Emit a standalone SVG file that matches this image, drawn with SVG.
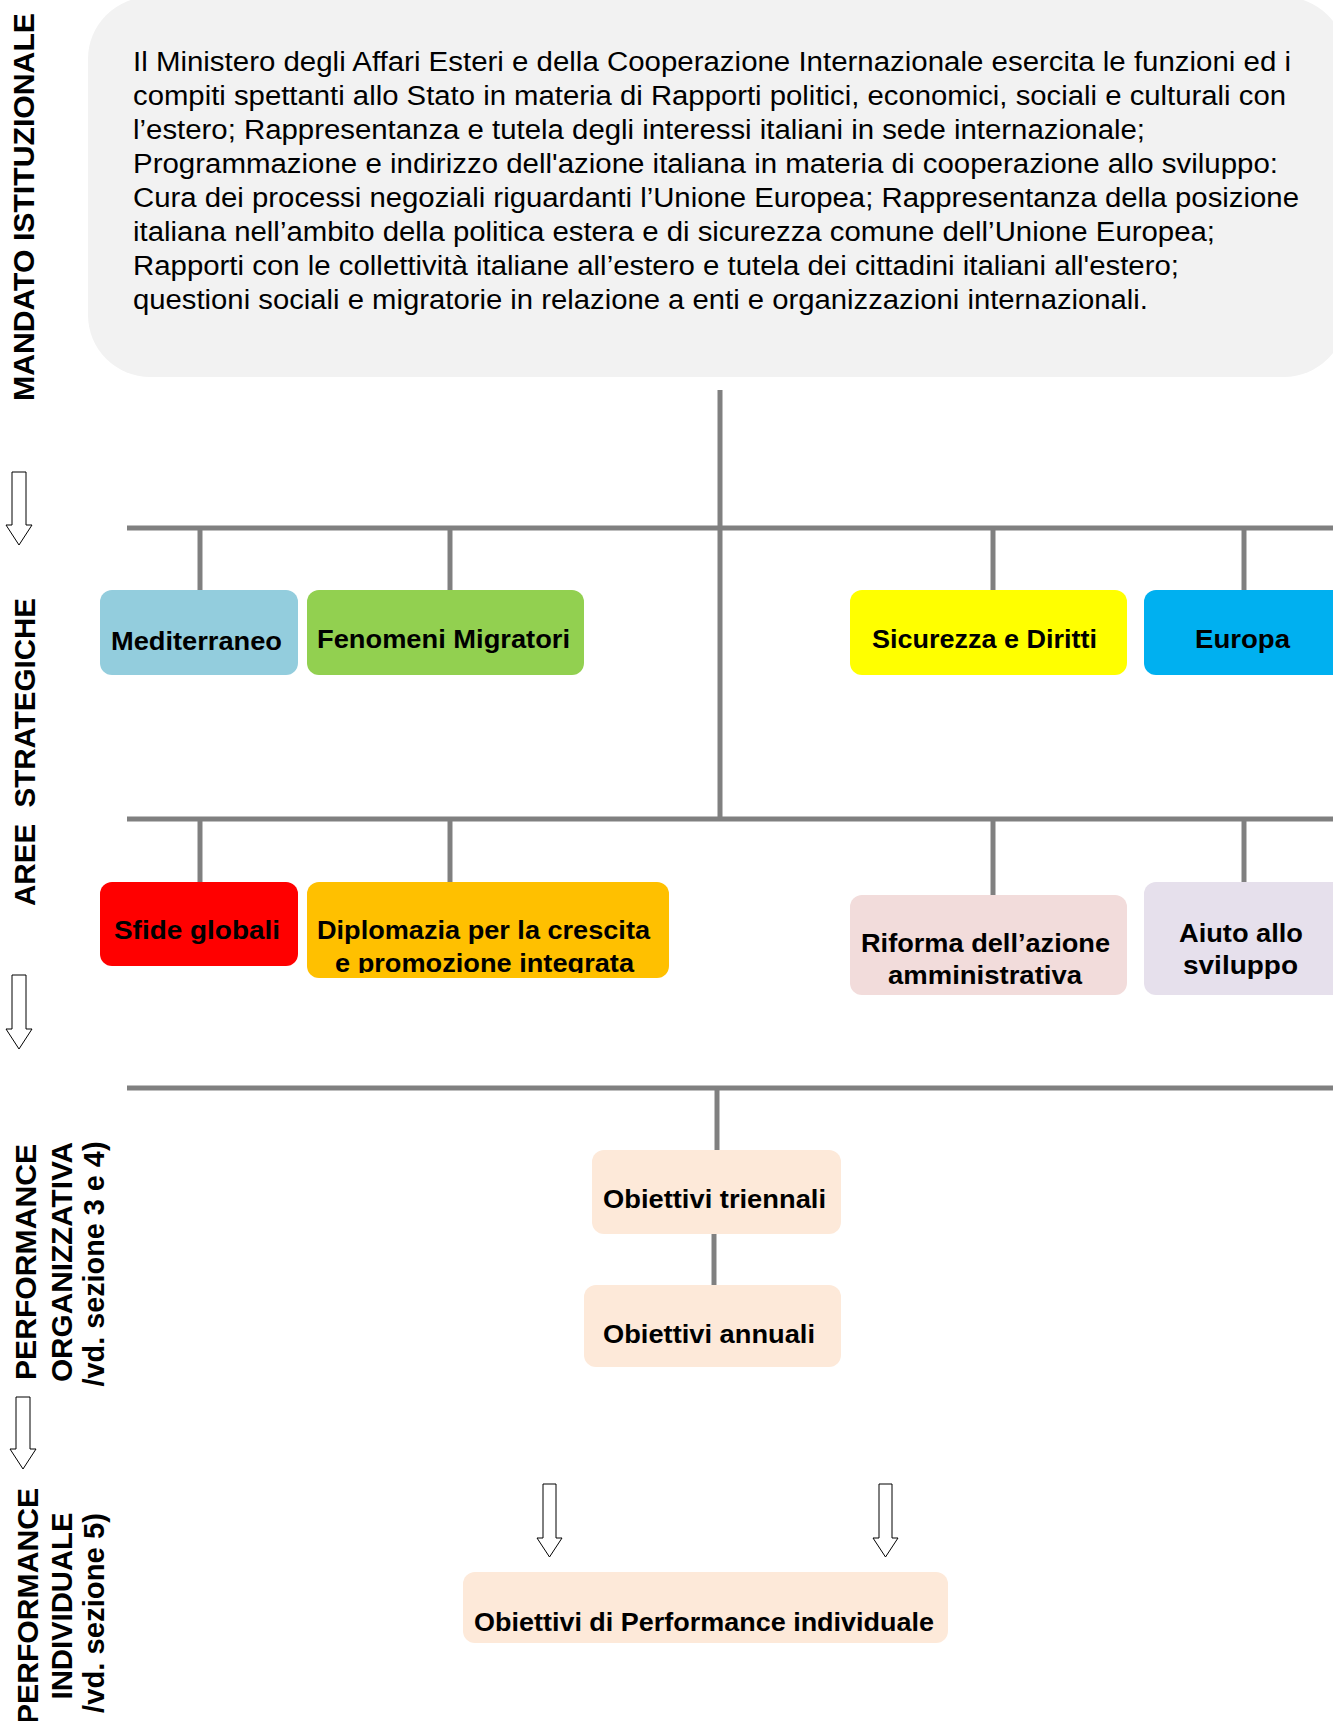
<svg xmlns="http://www.w3.org/2000/svg" width="1333" height="1721" viewBox="0 0 1333 1721">
<defs>
<style>
.bg{fill:#ffffff}
.mand{fill:#f2f2f2}
.body{font-family:"Liberation Sans",Arial,sans-serif;font-size:27px;fill:#000}
.lab{font-family:"Liberation Sans",Arial,sans-serif;font-size:29px;font-weight:bold;fill:#000;text-anchor:middle;white-space:pre}
.bt{font-family:"Liberation Sans",Arial,sans-serif;font-size:26px;font-weight:bold;fill:#000}
.ln{stroke:#808080;stroke-width:5;fill:none}
.arr{fill:#ffffff;stroke:#000;stroke-width:1}
</style>
<clipPath id="clipDip"><rect x="307" y="882" width="362" height="91"/></clipPath>
</defs>
<rect class="bg" x="0" y="0" width="1333" height="1721"/>

<g id="mandato">
<rect class="mand" x="88" y="-3" width="1258" height="380" rx="62" ry="62"/>
<text class="body" x="133" y="71" textLength="1158" lengthAdjust="spacingAndGlyphs">Il Ministero degli Affari Esteri e della Cooperazione Internazionale esercita le funzioni ed i</text>
<text class="body" x="133" y="105" textLength="1153" lengthAdjust="spacingAndGlyphs">compiti spettanti allo Stato in materia di Rapporti politici, economici, sociali e culturali con</text>
<text class="body" x="133" y="139" textLength="1012" lengthAdjust="spacingAndGlyphs">l’estero; Rappresentanza e tutela degli interessi italiani in sede internazionale;</text>
<text class="body" x="133" y="173" textLength="1145" lengthAdjust="spacingAndGlyphs">Programmazione e indirizzo dell'azione italiana in materia di cooperazione allo sviluppo:</text>
<text class="body" x="133" y="207" textLength="1166" lengthAdjust="spacingAndGlyphs">Cura dei processi negoziali riguardanti l’Unione Europea; Rappresentanza della posizione</text>
<text class="body" x="133" y="241" textLength="1082" lengthAdjust="spacingAndGlyphs">italiana nell’ambito della politica estera e di sicurezza comune dell’Unione Europea;</text>
<text class="body" x="133" y="275" textLength="1046" lengthAdjust="spacingAndGlyphs">Rapporti con le collettività italiane all’estero e tutela dei cittadini italiani all'estero;</text>
<text class="body" x="133" y="309" textLength="1015" lengthAdjust="spacingAndGlyphs">questioni sociali e migratorie in relazione a enti e organizzazioni internazionali.</text>
</g>

<g id="side-labels">
<text class="lab" transform="translate(34,207) rotate(-90)" textLength="388" lengthAdjust="spacingAndGlyphs">MANDATO ISTITUZIONALE</text>
<text class="lab" xml:space="preserve" transform="translate(35,752) rotate(-90)" textLength="308" lengthAdjust="spacingAndGlyphs">AREE  STRATEGICHE</text>
<text class="lab" transform="translate(36,1262) rotate(-90)" textLength="236" lengthAdjust="spacingAndGlyphs">PERFORMANCE</text>
<text class="lab" transform="translate(72,1262) rotate(-90)" textLength="240" lengthAdjust="spacingAndGlyphs">ORGANIZZATIVA</text>
<text class="lab" transform="translate(104,1264) rotate(-90)" textLength="245" lengthAdjust="spacingAndGlyphs">/vd. sezione 3 e 4)</text>
<text class="lab" transform="translate(38,1606) rotate(-90)" textLength="236" lengthAdjust="spacingAndGlyphs">PERFORMANCE</text>
<text class="lab" transform="translate(72,1606) rotate(-90)" textLength="187" lengthAdjust="spacingAndGlyphs">INDIVIDUALE</text>
<text class="lab" transform="translate(104,1613) rotate(-90)" textLength="200" lengthAdjust="spacingAndGlyphs">/vd. sezione 5)</text>
</g>

<g id="arrows">
<path class="arr" d="M12,472 H26 V525 H32 L19,545 L6,525 H12 Z"/>
<path class="arr" d="M12,975 H26 V1029 H32 L19,1049 L6,1029 H12 Z"/>
<path class="arr" d="M16,1397 H30 V1449 H36 L23,1469 L10,1449 H16 Z"/>
<path class="arr" d="M543,1484 H556 V1538 H562 L549.5,1557 L537,1538 H543 Z"/>
<path class="arr" d="M879,1484 H892 V1538 H898 L885.5,1557 L873,1538 H879 Z"/>
</g>

<g id="connectors">
<line class="ln" x1="720" y1="390" x2="720" y2="819"/>
<line class="ln" x1="127" y1="528" x2="1333" y2="528"/>
<line class="ln" x1="200" y1="528" x2="200" y2="591"/>
<line class="ln" x1="450" y1="528" x2="450" y2="591"/>
<line class="ln" x1="993" y1="528" x2="993" y2="591"/>
<line class="ln" x1="1244" y1="528" x2="1244" y2="591"/>
<line class="ln" x1="127" y1="819" x2="1333" y2="819"/>
<line class="ln" x1="200" y1="819" x2="200" y2="883"/>
<line class="ln" x1="450" y1="819" x2="450" y2="883"/>
<line class="ln" x1="993" y1="819" x2="993" y2="896"/>
<line class="ln" x1="1244" y1="819" x2="1244" y2="883"/>
<line class="ln" x1="127" y1="1088" x2="1333" y2="1088"/>
<line class="ln" x1="717" y1="1088" x2="717" y2="1151"/>
<line class="ln" x1="714" y1="1233" x2="714" y2="1286"/>
</g>

<g id="mediterraneo">
<rect x="100" y="590" width="198" height="85" rx="12" fill="#93cddd"/>
<text class="bt" x="111" y="650" textLength="171" lengthAdjust="spacingAndGlyphs">Mediterraneo</text>
</g>
<g id="fenomeni-migratori">
<rect x="307" y="590" width="277" height="85" rx="12" fill="#92d050"/>
<text class="bt" x="317" y="648" textLength="253" lengthAdjust="spacingAndGlyphs">Fenomeni Migratori</text>
</g>
<g id="sicurezza-diritti">
<rect x="850" y="590" width="277" height="85" rx="12" fill="#ffff00"/>
<text class="bt" x="872" y="648" textLength="225" lengthAdjust="spacingAndGlyphs">Sicurezza e Diritti</text>
</g>
<g id="europa">
<rect x="1144" y="590" width="210" height="85" rx="12" fill="#00b0f0"/>
<text class="bt" x="1195" y="648" textLength="95" lengthAdjust="spacingAndGlyphs">Europa</text>
</g>

<g id="sfide-globali">
<rect x="100" y="882" width="198" height="84" rx="12" fill="#ff0000"/>
<text class="bt" x="114" y="939" textLength="166" lengthAdjust="spacingAndGlyphs">Sfide globali</text>
</g>
<g id="diplomazia">
<rect x="307" y="882" width="362" height="96" rx="12" fill="#ffc000"/>
<g clip-path="url(#clipDip)">
<text class="bt" x="317" y="939" textLength="333" lengthAdjust="spacingAndGlyphs">Diplomazia per la crescita</text>
<text class="bt" x="335" y="972" textLength="299" lengthAdjust="spacingAndGlyphs">e promozione integrata</text>
</g>
</g>
<g id="riforma">
<rect x="850" y="895" width="277" height="100" rx="12" fill="#f2dcdb"/>
<text class="bt" x="861" y="952" textLength="249" lengthAdjust="spacingAndGlyphs">Riforma dell’azione</text>
<text class="bt" x="888" y="984" textLength="194" lengthAdjust="spacingAndGlyphs">amministrativa</text>
</g>
<g id="aiuto-sviluppo">
<rect x="1144" y="882" width="210" height="113" rx="12" fill="#e6e0ec"/>
<text class="bt" x="1179" y="942" textLength="124" lengthAdjust="spacingAndGlyphs">Aiuto allo</text>
<text class="bt" x="1183" y="974" textLength="115" lengthAdjust="spacingAndGlyphs">sviluppo</text>
</g>

<g id="obiettivi-triennali">
<rect x="592" y="1150" width="249" height="84" rx="12" fill="#fde9d9"/>
<text class="bt" x="603" y="1208" textLength="223" lengthAdjust="spacingAndGlyphs">Obiettivi triennali</text>
</g>
<g id="obiettivi-annuali">
<rect x="584" y="1285" width="257" height="82" rx="12" fill="#fde9d9"/>
<text class="bt" x="603" y="1343" textLength="212" lengthAdjust="spacingAndGlyphs">Obiettivi annuali</text>
</g>
<g id="obiettivi-individuali">
<rect x="463" y="1572" width="485" height="71" rx="12" fill="#fde9d9"/>
<text class="bt" x="474" y="1631" textLength="460" lengthAdjust="spacingAndGlyphs">Obiettivi di Performance individuale</text>
</g>
</svg>
